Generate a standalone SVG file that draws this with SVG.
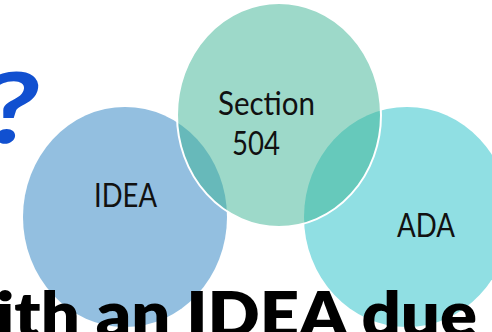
<svg xmlns="http://www.w3.org/2000/svg" width="492" height="332" viewBox="0 0 492 332">
  <style>
    .label { font-family: Lato, "Open Sans", "Liberation Sans", sans-serif; font-size: 32px; fill: #111111; }
    .headline { font-family: Lato, "Open Sans", "Liberation Sans", sans-serif; font-weight: 800; fill: #000000; }
  </style>
  <rect width="492" height="332" fill="#ffffff"/>

  <!-- Question mark, cut by the left edge -->
  <text transform="translate(36,143) skewX(-7) scale(1.25,1)" x="0" y="0" font-family="Lato, 'Open Sans', 'Liberation Sans', sans-serif" font-weight="700" font-size="98" fill="#1150D0" text-anchor="end">?</text>

  <!-- Venn circles -->
  <g id="idea">
    <ellipse cx="125" cy="217" rx="102" ry="110" fill="#93BFE0"/>
    <text class="label" x="94" y="207" textLength="63" lengthAdjust="spacingAndGlyphs">IDEA</text>
  </g>
  <g id="ada">
    <ellipse cx="407" cy="217" rx="103" ry="110" fill="#90DFE3"/>
    <text class="label" x="397" y="237" textLength="58" lengthAdjust="spacingAndGlyphs">ADA</text>
  </g>
  <g id="section504">
    <ellipse cx="279" cy="115" rx="102" ry="112" fill="#3BB393" fill-opacity="0.5" stroke="#ffffff" stroke-width="2"/>
    <text class="label" x="218" y="115" textLength="97" lengthAdjust="spacingAndGlyphs">Section</text>
    <text class="label" x="232" y="155" textLength="48" lengthAdjust="spacingAndGlyphs">504</text>
  </g>

  <!-- Headline line, cut by the bottom and left edges -->
  <text class="headline" x="-4" y="337" font-size="63" textLength="481" lengthAdjust="spacingAndGlyphs">ith an IDEA due</text>
</svg>
